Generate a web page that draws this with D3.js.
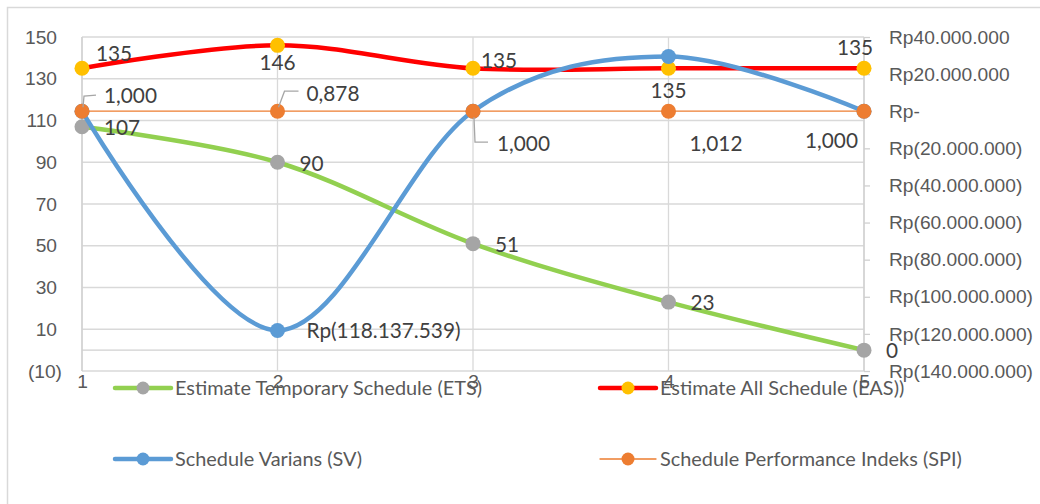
<!DOCTYPE html>
<html><head><meta charset="utf-8">
<script src="https://cdn.jsdelivr.net/npm/d3@7"></script>
<style>
body{margin:0;background:#fff;}
svg{display:block;font-family:Lato,"Noto Sans",sans-serif;}
</style></head><body><svg id="c" width="1040" height="504"></svg>
<script>
// ---- data ----
const categories = [1, 2, 3, 4, 5];
const etsValues = [107, 90, 51, 23, 0];
const easValues = [135, 146, 135, 135, 135];
const svValues = [0, -118137539, 0, 29500000, 0];
const spiValues = [1.000, 0.878, 1.000, 1.012, 1.000];
const leftTicks = [150, 130, 110, 90, 70, 50, 30, 10, -10];
const rightTicks = [40000000, 20000000, 0, -20000000, -40000000, -60000000, -80000000, -100000000, -120000000, -140000000];
const seriesNames = ["Estimate Temporary Schedule (ETS)", "Estimate All Schedule (EAS))", "Schedule Varians (SV)", "Schedule Performance Indeks (SPI)"];

// ---- layout ----
const svg = d3.select("#c");
const L = 82, R = 864, T = 37, B = 371;
const FS = 19.2, FL = 19.9, FD = 20.8;
const x = d3.scalePoint().domain(categories).range([L, R]);
const y = d3.scaleLinear().domain([-10, 150]).range([B, T]);
const y2 = d3.scaleLinear().domain([-140000000, 40000000]).range([B, T]);

const rp = v => v === 0 ? "Rp-" : (v < 0 ? "Rp(" + d3.format(",")(-v).replace(/,/g, ".") + ")" : "Rp" + d3.format(",")(v).replace(/,/g, "."));
const paren = v => v < 0 ? "(" + (-v) + ")" : String(v);
const dec = v => d3.format(".3f")(v).replace(".", ",");

// outer border
svg.append("path").attr("d", "M7.5,504V7.5H1040").attr("fill", "none").attr("stroke", "#d9d9d9").attr("stroke-width", 1.5);

// gridlines
const g = svg.append("g");
g.selectAll(".hg").data(leftTicks).join("line")
  .attr("x1", L).attr("x2", R).attr("y1", d => y(d)).attr("y2", d => y(d))
  .attr("stroke", "#d9d9d9").attr("stroke-width", 1.3);
g.selectAll(".vg").data(categories).join("line")
  .attr("x1", d => x(d)).attr("x2", d => x(d)).attr("y1", T).attr("y2", B)
  .attr("stroke", "#d9d9d9").attr("stroke-width", 1.3);
g.append("line").attr("x1", L).attr("x2", R).attr("y1", y(0)).attr("y2", y(0)).attr("stroke", "#d0d0d0").attr("stroke-width", 1.3);
g.append("line").attr("x1", L).attr("x2", L).attr("y1", T).attr("y2", B).attr("stroke", "#d0d0d0").attr("stroke-width", 1.3);

// left axis
const ax = svg.append("g").attr("transform", `translate(${L},0)`)
  .call(d3.axisLeft(y).tickValues(leftTicks).tickFormat(paren).tickSize(0).tickPadding(20));
ax.select(".domain").remove();
ax.selectAll("text").attr("font-size", FS).attr("fill", "#595959").attr("font-family", null)
  .attr("dx", d => d < 0 ? 0 : -5);

// right axis
const ax2 = svg.append("g").attr("transform", `translate(${R},0)`)
  .call(d3.axisRight(y2).tickValues(rightTicks).tickFormat(rp).tickSize(6).tickPadding(19));
ax2.select(".domain").attr("stroke", "#d0d0d0").attr("stroke-width", 1.3).attr("d", `M0,${T}V${B}`);
ax2.selectAll(".tick line").attr("stroke", "#d0d0d0").attr("stroke-width", 1.3);
ax2.selectAll("text").attr("font-size", FS).attr("fill", "#595959").attr("font-family", null);

// bottom category labels
const ax3 = svg.append("g").attr("transform", `translate(0,${B})`)
  .call(d3.axisBottom(x).tickSize(0).tickPadding(3));
ax3.select(".domain").remove();
ax3.selectAll("text").attr("font-size", FS).attr("fill", "#595959").attr("font-family", null);

// ---- series ----
const curve = d3.curveCatmullRom.alpha(0);
function series(vals, ys, lineColor, lw, markColor) {
  const pts = vals.map((v, i) => [x(categories[i]), ys(v)]);
  svg.append("path").attr("d", d3.line().curve(curve)(pts))
    .attr("fill", "none").attr("stroke", lineColor).attr("stroke-width", lw).attr("stroke-linecap", "round");
  svg.append("g").selectAll("circle").data(pts).join("circle")
    .attr("cx", d => d[0]).attr("cy", d => d[1]).attr("r", 7.5).attr("fill", markColor);
  return pts;
}
const etsP = series(etsValues, y, "#92d050", 4.5, "#a5a5a5");
const easP = series(easValues, y, "#ff0000", 4.5, "#ffc000");
const svP = series(svValues, y2, "#5b9bd5", 4.5, "#5b9bd5");
const spiP = series(spiValues, y2, "#ed7d31", 1.3, "#ed7d31");

// ---- data labels ----
const lab = svg.append("g").attr("font-size", FD).attr("fill", "#404040");
function label(px, py, dx, dy, txt, anchor) {
  lab.append("text").attr("x", px + dx).attr("y", py + dy).attr("dy", "0.35em")
    .attr("text-anchor", anchor || "start").text(txt);
}
const easOff = [[14, -15, "start"], [0, 17, "middle"], [8, -8, "start"], [0, 22, "middle"], [-9, -21, "middle"]];
easP.forEach((p, i) => label(p[0], p[1], easOff[i][0], easOff[i][1], easValues[i], easOff[i][2]));
etsP.forEach((p, i) => label(p[0], p[1], 22, 1, etsValues[i]));
label(svP[1][0], svP[1][1], 29, 0, rp(svValues[1]));
const spiOff = [[22, -16, "start"], [29, -18, "start"], [24, 32, "start"], [21, 32, "start"], [-6, 29, "end"]];
spiP.forEach((p, i) => label(p[0], p[1], spiOff[i][0], spiOff[i][1], dec(spiValues[i]), spiOff[i][2]));
// leader lines
const leaders = [
  [[1, -4], [2, -15], [14, -16]],
  [[1, -4], [7, -20], [21, -20]],
  [[1, 6], [2, 31], [15, 31]]
];
leaders.forEach((l, i) => {
  const p = spiP[i];
  svg.append("path").attr("d", d3.line()(l.map(o => [p[0] + o[0], p[1] + o[1]])))
    .attr("fill", "none").attr("stroke", "#a6a6a6").attr("stroke-width", 1.3);
});

// ---- legend ----
const legendItems = [
  {name: seriesNames[0], line: "#92d050", lw: 4.5, mark: "#a5a5a5", lx: 115, ly: 388},
  {name: seriesNames[1], line: "#ff0000", lw: 4.5, mark: "#ffc000", lx: 600, ly: 388},
  {name: seriesNames[2], line: "#5b9bd5", lw: 4.5, mark: "#5b9bd5", lx: 115, ly: 459},
  {name: seriesNames[3], line: "#ed7d31", lw: 1.3, mark: "#ed7d31", lx: 600, ly: 459}
];
const lg = svg.append("g");
legendItems.forEach(d => {
  lg.append("line").attr("x1", d.lx).attr("x2", d.lx + 56).attr("y1", d.ly).attr("y2", d.ly)
    .attr("stroke", d.line).attr("stroke-width", d.lw).attr("stroke-linecap", "round");
  lg.append("circle").attr("cx", d.lx + 28).attr("cy", d.ly).attr("r", 6.5).attr("fill", d.mark);
  lg.append("text").attr("x", d.lx + 60).attr("y", d.ly).attr("dy", "0.35em")
    .attr("font-size", FL).attr("fill", "#595959").text(d.name);
});
</script></body></html>
